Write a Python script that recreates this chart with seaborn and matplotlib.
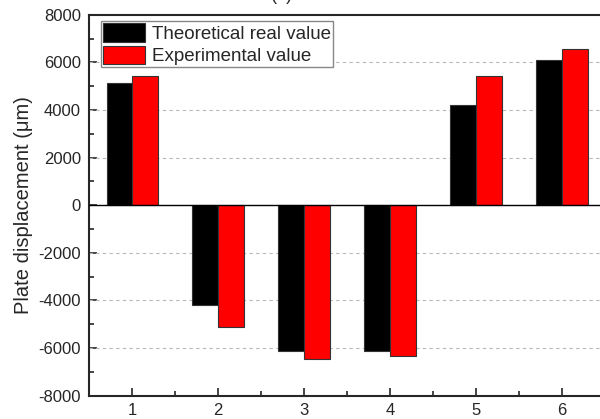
import pandas as pd
import matplotlib
matplotlib.use('Agg')
import matplotlib.pyplot as plt
import seaborn as sns
from matplotlib.ticker import MultipleLocator

samples = ['1', '2', '3', '4', '5', '6']
theoretical = [5150, -4200, -6120, -6120, 4200, 6100]
experimental = [5430, -5130, -6460, -6320, 5420, 6550]
series_names = ['Theoretical real value', 'Experimental value']

df = pd.DataFrame({
    'Sample': samples * 2,
    'Displacement': theoretical + experimental,
    'Series': [series_names[0]] * 6 + [series_names[1]] * 6,
})

sns.set_style('ticks')
plt.rcParams['font.family'] = ['Liberation Sans', 'DejaVu Sans']
plt.rcParams['axes.unicode_minus'] = False

fig = plt.figure(figsize=(6, 4.19), dpi=100)
ax = fig.add_axes([0.149, 0.0558, 0.859, 0.909])

sns.barplot(data=df, x='Sample', y='Displacement', hue='Series',
            palette=['#000000', '#ff0000'], saturation=1, width=0.6,
            edgecolor='#333333', linewidth=0.8, ax=ax, zorder=3)

ax.set_xlim(-0.5, 5.5)
ax.set_ylim(-8000, 8000)
ax.yaxis.set_major_locator(MultipleLocator(2000))
ax.yaxis.set_minor_locator(MultipleLocator(1000))
ax.xaxis.set_minor_locator(MultipleLocator(0.5))
ax.tick_params(which='both', direction='in', labelsize=12, width=1.2)
ax.tick_params(which='major', length=6)
ax.tick_params(which='minor', length=3.5)
ax.tick_params(axis='y', pad=6)
ax.tick_params(axis='x', pad=5)

for y in [-6000, -4000, -2000, 2000, 4000, 6000]:
    ax.axhline(y, color='#b8b8b8', linestyle=(0, (3, 3)), linewidth=0.8, zorder=1)
ax.axhline(0, color='black', linewidth=1.0, zorder=4)

for s in ax.spines.values():
    s.set_linewidth(1.5)

ax.set_xlabel('')
ax.set_ylabel('Plate displacement (\u03bcm)', fontsize=14.5, labelpad=4)

leg = ax.legend(loc='upper left', bbox_to_anchor=(0.0217, 0.984), borderaxespad=0,
                fontsize=13.5, handlelength=2.25, handleheight=1.15, handletextpad=0.35,
                labelspacing=0.15, borderpad=0.12, fancybox=False, framealpha=1,
                edgecolor='#888888')
leg.get_frame().set_linewidth(1.0)

fig.text(0.47, 1 - 4 / 419, '(a)', ha='center', va='bottom', fontsize=13)

fig.savefig('out.png', dpi=100)
